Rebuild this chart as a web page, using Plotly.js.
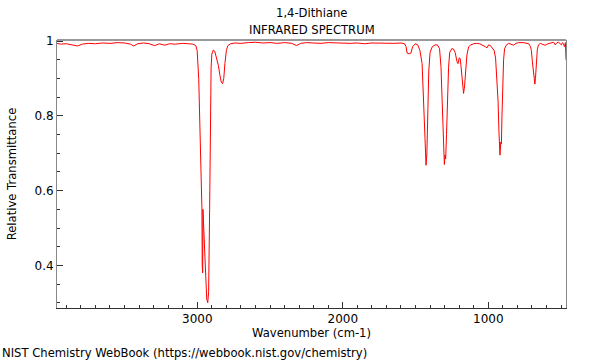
<!DOCTYPE html>
<html>
<head>
<meta charset="utf-8">
<script src="https://cdn.plot.ly/plotly-3.0.1.min.js"></script>
<style>html,body{margin:0;padding:0;background:#fff}#chart{width:600px;height:360px}</style>
</head>
<body>
<div id="chart"></div>
<script>
const wavenumber = [3964,3940,3900,3860,3823,3790,3750,3700,3650,3600,3550,3500,3460,3437,3410,3370,3330,3293,3260,3224,3190,3150,3100,3060,3030,3010,3001,2990,2980,2975,2971,2968,2966,2963,2961,2958,2953,2950,2946,2940,2935,2928,2922,2915,2910,2905,2900,2890,2880,2870,2855,2845,2835,2826,2818,2810,2800,2790,2770,2740,2700,2650,2600,2550,2500,2450,2400,2350,2317,2290,2250,2200,2150,2100,2050,2000,1950,1900,1850,1800,1750,1700,1650,1600,1575,1565,1558,1545,1532,1520,1502,1485,1470,1455,1445,1435,1428,1422,1415,1409,1400,1385,1365,1350,1335,1325,1318,1310,1302,1297,1293,1287,1280,1273,1265,1250,1240,1228,1215,1208,1200,1194,1188,1180,1170,1163,1155,1147,1135,1120,1100,1080,1060,1040,1020,1009,998,985,970,960,950,940,933,927,924,920,914,910,906,902,895,888,875,860,840,826,810,791,760,740,722,710,704,697,690,684,680,676,670,663,655,643,625,608,590,574,560,551,540,528,517,505,498,490,484,476,470,466];
const transmittance = [0.994,0.992,0.993,0.990,0.987,0.992,0.994,0.993,0.995,0.994,0.996,0.995,0.992,0.987,0.993,0.995,0.993,0.988,0.993,0.989,0.993,0.992,0.994,0.993,0.992,0.988,0.975,0.90,0.75,0.62,0.56,0.55,0.40,0.38,0.55,0.52,0.49,0.48,0.42,0.35,0.31,0.30,0.33,0.55,0.80,0.93,0.965,0.976,0.973,0.96,0.935,0.91,0.89,0.886,0.90,0.94,0.975,0.988,0.993,0.995,0.994,0.996,0.997,0.995,0.996,0.994,0.996,0.994,0.988,0.994,0.996,0.995,0.994,0.996,0.995,0.996,0.994,0.995,0.993,0.995,0.994,0.993,0.994,0.995,0.993,0.985,0.968,0.966,0.968,0.985,0.993,0.99,0.975,0.94,0.86,0.74,0.668,0.70,0.82,0.92,0.97,0.985,0.99,0.99,0.98,0.93,0.85,0.74,0.67,0.695,0.685,0.75,0.86,0.93,0.97,0.98,0.979,0.97,0.945,0.94,0.955,0.954,0.935,0.90,0.86,0.88,0.93,0.963,0.985,0.99,0.993,0.994,0.993,0.99,0.985,0.982,0.99,0.988,0.98,0.975,0.955,0.90,0.84,0.76,0.72,0.695,0.73,0.725,0.80,0.88,0.95,0.98,0.99,0.994,0.991,0.989,0.994,0.996,0.996,0.994,0.993,0.985,0.975,0.945,0.91,0.89,0.885,0.90,0.945,0.978,0.99,0.994,0.991,0.989,0.993,0.994,0.995,0.997,0.99,0.996,0.997,0.992,0.99,0.996,0.993,0.985,0.996,0.95];

const titleLines = ["1,4-Dithiane", "INFRARED SPECTRUM"];
const xTitle = "Wavenumber (cm-1)";
const yTitle = "Relative Transmittance";
const footer = "NIST Chemistry WebBook (https://webbook.nist.gov/chemistry)";

const font = {family: "DejaVu Sans, sans-serif", size: 11.6, color: "#000"};
const tickFont = {family: "DejaVu Sans, sans-serif", size: 12, color: "#000"};

const data = [{
  x: wavenumber, y: transmittance, type: "scatter", mode: "lines",
  line: {color: "#ff0000", width: 1}, hoverinfo: "skip"
}];

const layout = {
  width: 600, height: 360,
  margin: {l: 57, r: 34, t: 40, b: 52},
  paper_bgcolor: "#fff", plot_bgcolor: "#fff",
  font: font,
  showlegend: false,
  xaxis: {
    range: [3964, 466], autorange: false,
    tickmode: "linear", tick0: 0, dtick: 1000,
    ticks: "inside", ticklen: 6, tickcolor: "#333", tickwidth: 1,
    minor: {dtick: 100, ticks: "inside", ticklen: 3, tickcolor: "#333"},
    showgrid: false, zeroline: false,
    showline: true, linecolor: "#333", linewidth: 1, mirror: false,
    tickfont: tickFont,
    title: {text: xTitle, font: font, standoff: 3}
  },
  yaxis: {
    range: [0.286, 1.003], autorange: false,
    tickmode: "linear", tick0: 0, dtick: 0.2,
    ticks: "inside", ticklen: 6, tickcolor: "#333", tickwidth: 1,
    minor: {dtick: 0.05, ticks: "inside", ticklen: 3, tickcolor: "#333"},
    showgrid: false, zeroline: false,
    showline: true, linecolor: "#888", linewidth: 1, mirror: true,
    tickfont: tickFont,
    title: {text: yTitle, font: font, standoff: 15}
  },
  shapes: [{type: "line", xref: "paper", yref: "paper", x0: 0, x1: 1, y0: 1, y1: 1,
            line: {color: "#999", width: 2}}],
  annotations: [
    {text: titleLines[0], xref: "paper", yref: "paper", x: 0.5, y: 1, yshift: 27, xanchor: "center", yanchor: "middle", showarrow: false, font: font},
    {text: titleLines[1], xref: "paper", yref: "paper", x: 0.5, y: 1, yshift: 10, xanchor: "center", yanchor: "middle", showarrow: false, font: font},
    {text: footer, xref: "paper", yref: "paper", x: 0, y: 0, xshift: -57, yshift: -45, xanchor: "left", yanchor: "middle", showarrow: false, font: font}
  ]
};

Plotly.newPlot("chart", data, layout, {displayModeBar: false, staticPlot: true});
</script>
</body>
</html>
